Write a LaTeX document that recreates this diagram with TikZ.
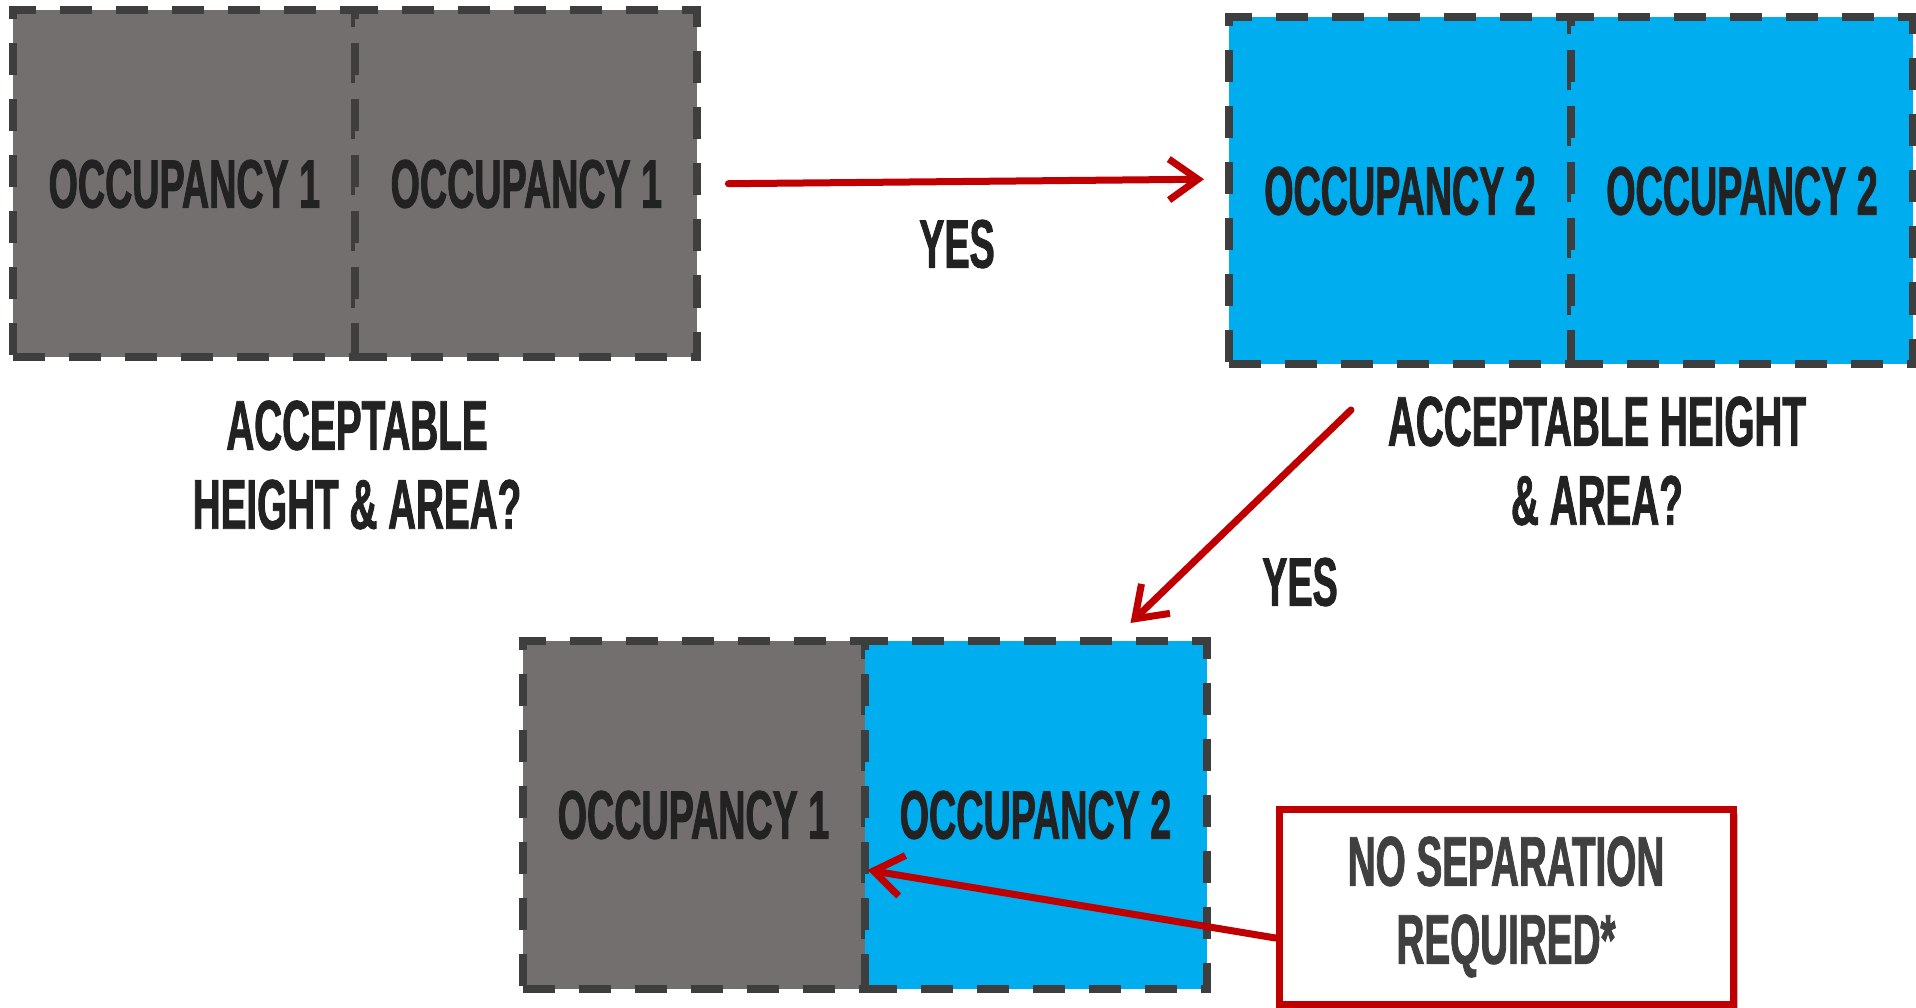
\documentclass[tikz,border=0pt]{standalone}
\usepackage{fontspec}
\newfontfamily\bebas{Liberation Sans}[FakeStretch=0.55, BoldFeatures={FakeBold=1.2}]
\usepackage{tikz}
\usetikzlibrary{arrows.meta, positioning, calc, shadows}
\definecolor{OccGray}{RGB}{115, 111, 110}
\definecolor{OccBlue}{RGB}{0, 174, 239}
\definecolor{OccBorder}{RGB}{62, 62, 62}
\definecolor{OccText}{RGB}{34, 34, 34}
\definecolor{NoteRed}{RGB}{192, 0, 0}
\definecolor{NoteText}{RGB}{64, 64, 64}

\tikzset{
  cell/.style={draw=OccBorder, line width=0.8mm, dash pattern=on 3.2mm off 2.4mm,
    minimum width=34.2mm, minimum height=34.7mm, inner sep=0pt, outer sep=0pt,
    text=OccText, font=\bebas\bfseries\fontsize{19.5}{22}\selectfont},
  occone/.style={cell, fill=OccGray},
  occtwo/.style={cell, fill=OccBlue},
  question/.style={align=center, text=OccText, font=\bebas\bfseries\fontsize{20}{22.5}\selectfont},
  answer/.style={text=OccText, font=\bebas\bfseries\fontsize{19.5}{22}\selectfont},
  redarrow/.style={draw=NoteRed, line width=0.7mm, line cap=round,
    -{Straight Barb[length=2.9mm, width=4.1mm]}}
}

\begin{document}
\begin{tikzpicture}[x=1mm,y=1mm]
  \path[use as bounding box] (0,0) rectangle (191.6,100.7);

  % two units of the same occupancy
  \node[occone] (A1) at (18.44,82.3) {OCCUPANCY 1};
  \node[occone, right=0pt of A1] (A2) {OCCUPANCY 1};
  \node[question] (askA) at (35.7,54.2) {ACCEPTABLE\\HEIGHT \& AREA?};

  % same building, second occupancy
  \node[occtwo] (B1) at (140.0,81.6) {OCCUPANCY 2};
  \node[occtwo, right=0pt of B1] (B2) {OCCUPANCY 2};
  \node[question] (askB) at (159.7,54.6) {ACCEPTABLE HEIGHT\\\& AREA?};

  % mixed result
  \node[occone] (C1) at (69.35,19.2) {OCCUPANCY 1};
  \node[occtwo, right=0pt of C1] (C2) {OCCUPANCY 2};

  \node[draw=NoteRed, line width=0.7mm, fill=white, minimum width=45.4mm, minimum height=19.5mm,
    align=center, text=NoteText, font=\bebas\bfseries\fontsize{20}{22.2}\selectfont,
    drop shadow={shadow xshift=0.5mm, shadow yshift=-0.5mm, fill=black!45, opacity=0.6}]
    (note) at (150.6,10.0) {NO SEPARATION\\REQUIRED*};

  \node[answer] (yesA) at (95.7,76.3) {YES};
  \node[answer] (yesB) at (130.0,42.5) {YES};

  % connectors
  \coordinate (downFrom) at ($(B1.south)+(-4.9,-4.55)$);
  \coordinate (downTo) at ($(C2.north)+(9.5,1.85)$);
  \coordinate (wallHit) at ($(C2.west)+(0.3,-5.5)$);

  \draw[redarrow, shorten <=3.1mm, shorten >=2.5mm] (A2.east) -- ([yshift=1.2mm]B1.west);
  \draw[redarrow] (downFrom) -- (downTo);
  \draw[redarrow] ([yshift=-3.1mm]note.west) -- (wallHit);
\end{tikzpicture}
\end{document}
